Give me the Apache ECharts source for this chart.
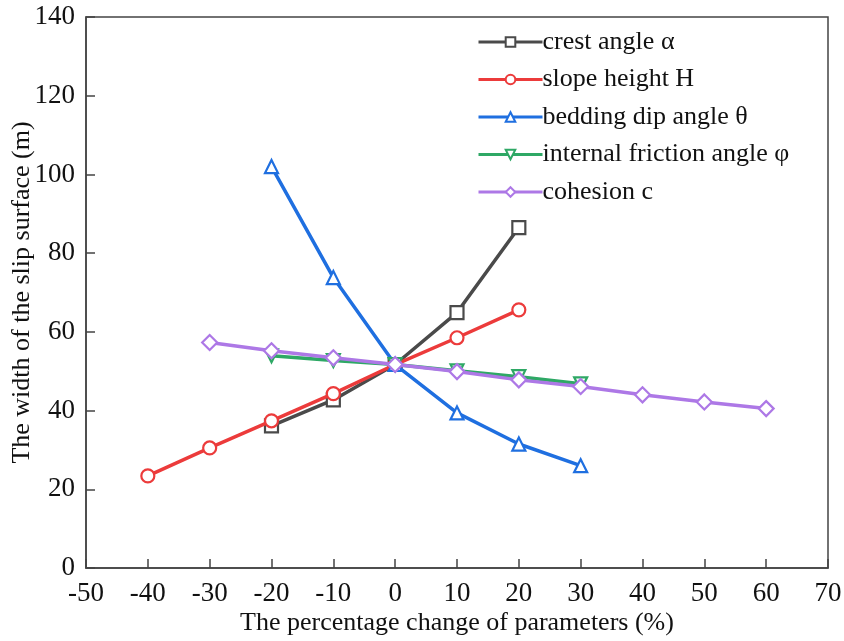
<!DOCTYPE html>
<html><head><meta charset="utf-8">
<script src="https://cdn.jsdelivr.net/npm/echarts@6/dist/echarts.min.js"></script>
<style>html,body{margin:0;padding:0;background:#fff}#c{width:844px;height:641px}</style>
</head><body><div id="c"></div>
<script>
const seriesNames = ['crest angle α','slope height H','bedding dip angle θ','internal friction angle φ','cohesion c'];
const crestX = [-20,-10,0,10,20];
const crestY = [36.1,42.7,51.7,64.9,86.5];
const heightX = [-40,-30,-20,-10,0,10,20];
const heightY = [23.4,30.5,37.4,44.3,51.7,58.5,65.6];
const dipX = [-20,-10,0,10,20,30];
const dipY = [102.0,73.8,51.7,39.4,31.5,26.0];
const frictionX = [-20,-10,0,10,20,30];
const frictionY = [53.9,52.7,51.7,50.1,48.6,46.8];
const cohesionX = [-30,-20,-10,0,10,20,30,40,50,60];
const cohesionY = [57.3,55.2,53.4,51.7,49.9,47.8,46.1,44.0,42.2,40.5];
const colors = ['#4a4a4a','#ec3b3b','#1f6fe0','#2ea865','#ad78e6'];
const symbols = ['rect','circle','triangle','triangle','diamond'];
const rotates = [0,0,0,180,0];
const xs = [crestX,heightX,dipX,frictionX,cohesionX];
const ys = [crestY,heightY,dipY,frictionY,cohesionY];
const font = '"Liberation Serif","Times New Roman",serif';
const chart = echarts.init(document.getElementById('c'));
chart.setOption({
  animation:false,
  grid:{left:86,right:16,top:17,bottom:73,containLabel:false,outerBoundsMode:'none',show:true,borderColor:'#444',borderWidth:1.5},
  legend:{
    orient:'vertical',left:472,top:24,itemWidth:64,itemHeight:12,itemGap:11.5,
    lineStyle:{width:3},
    textStyle:{fontFamily:font,fontSize:26,lineHeight:26,color:'#111',padding:[0,0,0,-5]},
    data:seriesNames
  },
  xAxis:{type:'value',min:-50,max:70,interval:10,
    name:'The percentage change of parameters (%)',nameLocation:'middle',nameGap:42,nameMoveOverlap:false,
    nameTextStyle:{fontFamily:font,fontSize:26,color:'#111'},
    axisLine:{onZero:false,lineStyle:{color:'#444',width:1.5}},
    axisTick:{inside:true,length:9,lineStyle:{color:'#444',width:1.5}},
    axisLabel:{fontFamily:font,fontSize:27,color:'#111',margin:12},
    splitLine:{show:false}},
  yAxis:{type:'value',min:0,max:140,interval:20,
    name:'The width of the slip surface (m)',nameLocation:'middle',nameGap:51,nameMoveOverlap:false,
    nameTextStyle:{fontFamily:font,fontSize:26,color:'#111'},
    axisLine:{onZero:false,lineStyle:{color:'#444',width:1.5}},
    axisTick:{inside:true,length:9,lineStyle:{color:'#444',width:1.5}},
    axisLabel:{fontFamily:font,fontSize:27,color:'#111',margin:11},
    splitLine:{show:false}},
  series: seriesNames.map((n,i)=>({
    name:n,type:'line',
    data:xs[i].map((x,j)=>[x,ys[i][j]]),
    symbol:symbols[i],symbolRotate:rotates[i],symbolSize:i===4?15:13,
    lineStyle:{color:colors[i],width:3.5},
    itemStyle:{color:'#fff',borderColor:colors[i],borderWidth:2.2},
    z:2+i
  }))
});
</script></body></html>
